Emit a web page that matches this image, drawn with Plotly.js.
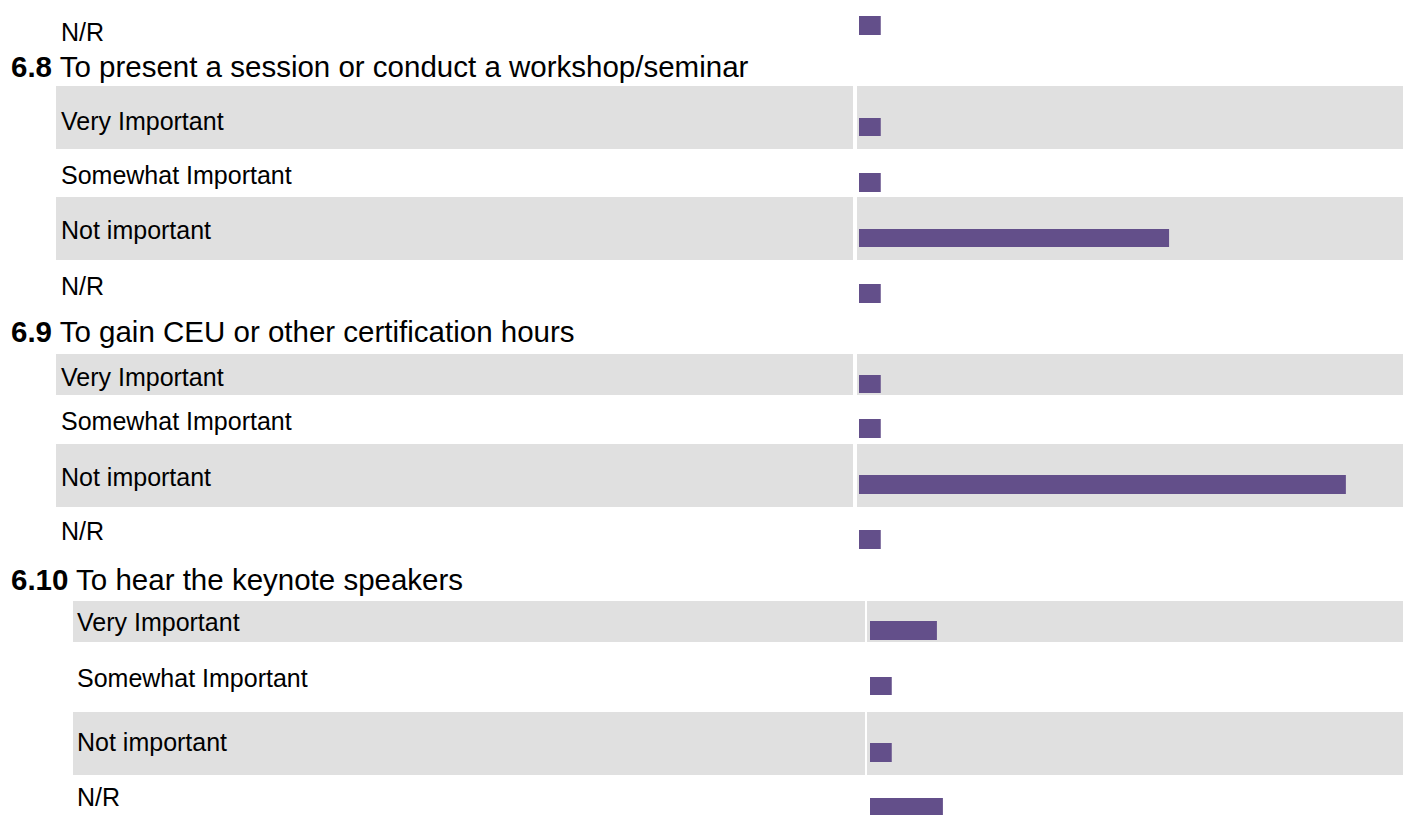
<!DOCTYPE html>
<html>
<head>
<meta charset="utf-8">
<script src="https://cdn.plot.ly/plotly-3.0.1.min.js"></script>
<style>
  html, body { margin: 0; padding: 0; background: #ffffff; }
  #chart { width: 1403px; height: 815px; }
</style>
</head>
<body>
<div id="chart"></div>
<script>
// ---------------- DATA ----------------
const responseLabels = ['Very Important', 'Somewhat Important', 'Not important', 'N/R'];

const prevLabels = ['N/R'];
const prevValues = [4];

const q68Number = '6.8';
const q68Title = 'To present a session or conduct a workshop/seminar';
const q68Values = [4, 4, 57, 4];

const q69Number = '6.9';
const q69Title = 'To gain CEU or other certification hours';
const q69Values = [4, 4, 89.5, 4];

const q610Number = '6.10';
const q610Title = 'To hear the keynote speakers';
const q610Values = [12.3, 4, 4, 13.4];

// ---------------- LAYOUT (pixel geometry) ----------------
const W = 1403, H = 815;
const BAR = '#634f8a';
const GRAY = '#e0e0e0';
const FONT = 'Liberation Sans, Arial, Helvetica, sans-serif';
const LABEL_SIZE = 25;
const HEAD_SIZE = 29.5;

const sections = [
  { number: null, title: null, labels: prevLabels, values: prevValues, axis: 'x',
    labelX: 59, grayL: 56, sepL: 853, sepR: 857,
    rowsGeo: [{ bar: [16, 35], text: 32 }] },
  { number: q68Number, title: q68Title, labels: responseLabels, values: q68Values, axis: 'x',
    headerY: 67, labelX: 59, grayL: 56, sepL: 853, sepR: 857,
    rowsGeo: [ { bar: [118, 136], text: 121, gray: [86, 149] },
               { bar: [173, 192], text: 175 },
               { bar: [229, 247], text: 230, gray: [197, 260] },
               { bar: [284, 303], text: 286 } ] },
  { number: q69Number, title: q69Title, labels: responseLabels, values: q69Values, axis: 'x',
    headerY: 331, labelX: 59, grayL: 56, sepL: 853, sepR: 857,
    rowsGeo: [ { bar: [375, 393], text: 377, gray: [354, 395] },
               { bar: [419, 438], text: 421 },
               { bar: [475, 494], text: 477, gray: [444, 507] },
               { bar: [530, 549], text: 531 } ] },
  { number: q610Number, title: q610Title, labels: responseLabels, values: q610Values, axis: 'x2',
    headerY: 579, labelX: 75, grayL: 73, sepL: 865, sepR: 867,
    rowsGeo: [ { bar: [621, 640], text: 622, gray: [601, 642] },
               { bar: [677, 695], text: 678 },
               { bar: [743, 762], text: 742, gray: [712, 775] },
               { bar: [798, 817], text: 797 } ] }
];

const py = p => Math.min(1, Math.max(0, 1 - p / H));
const px = p => p / W;
const PX_PER_UNIT = 5.44;

const traces = [];
const shapes = [];
const annotations = [];
const layout = {
  width: W, height: H,
  margin: { l: 0, r: 0, t: 0, b: 0, pad: 0 },
  paper_bgcolor: '#ffffff', plot_bgcolor: 'rgba(0,0,0,0)',
  showlegend: false,
  hovermode: false,
  xaxis:  { domain: [px(859), 1], range: [0, (W - 859) / PX_PER_UNIT], visible: false, fixedrange: true, anchor: 'y' },
  xaxis2: { domain: [px(870), 1], range: [0, (W - 870) / PX_PER_UNIT], visible: false, fixedrange: true, anchor: 'y' },
  shapes: shapes,
  annotations: annotations
};

let n = 0;
sections.forEach(sec => {
  if (sec.number) {
    annotations.push({
      xref: 'paper', yref: 'paper', x: px(9), y: py(sec.headerY),
      xanchor: 'left', yanchor: 'middle', showarrow: false,
      text: '<b>' + sec.number + '</b> ' + sec.title,
      font: { family: FONT, size: HEAD_SIZE, color: '#000000' }
    });
  }
  sec.rowsGeo.forEach((g, i) => {
    n += 1;
    const yName = n === 1 ? 'y' : 'y' + n;
    const yKey = n === 1 ? 'yaxis' : 'yaxis' + n;
    layout[yKey] = {
      domain: [py(g.bar[1]), py(g.bar[0])],
      type: 'category', range: [-0.5, 0.5],
      visible: false, fixedrange: true, anchor: sec.axis
    };
    if (g.gray) {
      shapes.push({ type: 'rect', xref: 'paper', yref: 'paper', layer: 'below',
        x0: px(sec.grayL), x1: px(sec.sepL), y0: py(g.gray[1]), y1: py(g.gray[0]),
        fillcolor: GRAY, line: { width: 0 } });
      shapes.push({ type: 'rect', xref: 'paper', yref: 'paper', layer: 'below',
        x0: px(sec.sepR), x1: 1, y0: py(g.gray[1]), y1: py(g.gray[0]),
        fillcolor: GRAY, line: { width: 0 } });
    }
    annotations.push({
      xref: 'paper', yref: 'paper', x: px(sec.labelX), y: py(g.text),
      xanchor: 'left', yanchor: 'middle', showarrow: false,
      text: sec.labels[i],
      font: { family: FONT, size: LABEL_SIZE, color: '#000000' }
    });
    traces.push({
      type: 'bar', orientation: 'h',
      x: [sec.values[i]], y: [sec.labels[i]],
      xaxis: sec.axis, yaxis: yName,
      width: 1,
      marker: { color: BAR, line: { width: 0 } },
      hoverinfo: 'skip'
    });
  });
});

Plotly.newPlot('chart', traces, layout, { displayModeBar: false, staticPlot: true });
</script>
</body>
</html>
